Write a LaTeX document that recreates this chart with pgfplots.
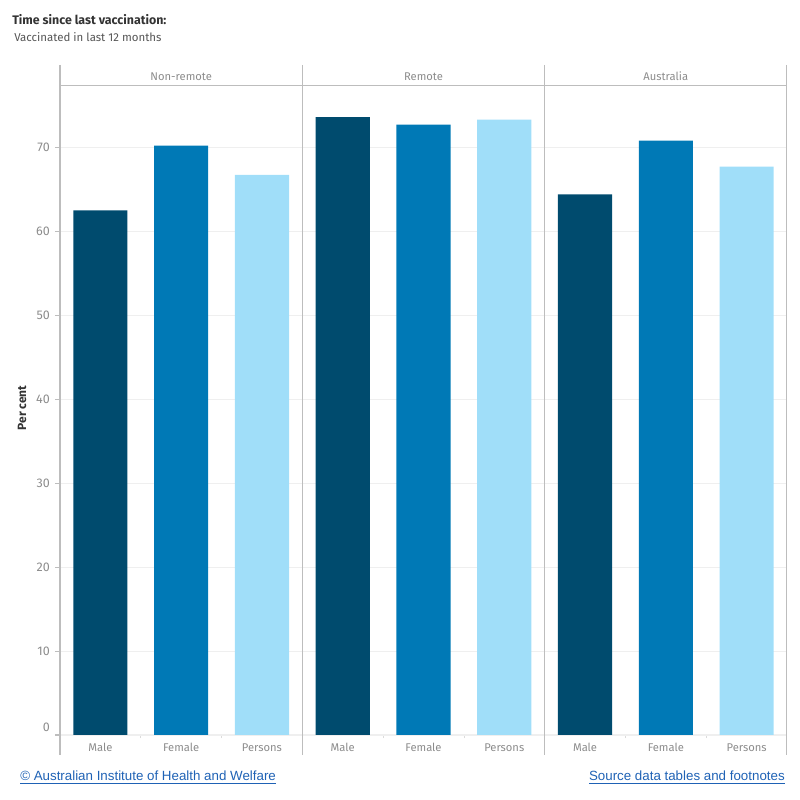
\documentclass[border=0pt]{standalone}
\usepackage{pgfplots}
\pgfplotsset{compat=1.18}
\usepackage{fontspec}
\setmainfont{Fira Sans}
\newfontfamily\arialfont{Liberation Sans}
\definecolor{cmale}{HTML}{004B6E}
\definecolor{cfemale}{HTML}{0079B6}
\definecolor{cpersons}{HTML}{A0DEF9}
\definecolor{axgray}{HTML}{BDBDBD}
\definecolor{gridgray}{HTML}{EFEFEF}
\definecolor{labgray}{HTML}{8C8C8C}
\definecolor{titlecol}{HTML}{333333}
\definecolor{subcol}{HTML}{555555}
\definecolor{linkblue}{HTML}{1F62B5}
\begin{document}
\begin{tikzpicture}[x=1pt,y=1pt]
\useasboundingbox (0,0) rectangle (600,600);
\node[anchor=base west, font=\bfseries\fontsize{9.3}{11}\selectfont, text=titlecol, inner sep=0] at (9,581.25) {Time since last vaccination:};
\node[anchor=base west, font=\fontsize{8.6}{10}\selectfont, text=subcol, inner sep=0] at (10.5,568.5) {Vaccinated in last 12 months};
\node[anchor=base west, font=\arialfont\fontsize{10}{12}\selectfont, text=linkblue, inner sep=0] at (15,14.25) {\underline{© Australian Institute of Health and Welfare}};
\node[anchor=base east, font=\arialfont\fontsize{10}{12}\selectfont, text=linkblue, inner sep=0] at (588.75,14.25) {\underline{Source data tables and footnotes}};
\node[rotate=90, font=\bfseries\fontsize{9}{11}\selectfont, text=titlecol] at (16.5,294) {Per cent};
\begin{axis}[
  at={(45pt,48.75pt)}, anchor=south west,
  scale only axis, width=545.25pt, height=486.75pt,
  xmin=-0.5, xmax=8.5, ymin=0, ymax=77.3,
  clip=false,
  axis line style={axgray, line width=0.75pt},
  ybar, bar width=0.67, bar shift=0pt,
  ytick={10,20,30,40,50,60,70},
  extra y ticks={0},
  extra y tick style={yticklabel style={yshift=6pt}},
  xtick={0,1,2,3,4,5,6,7,8},
  xticklabels={Male,Female,Persons,Male,Female,Persons,Male,Female,Persons},
  minor xtick={0.5,1.5,3.5,4.5,6.5,7.5},
  tick align=outside,
  major tick length=3.75pt, minor tick length=2.25pt,
  xtick style={draw=none},
  minor x tick style={draw=gridgray!60!axgray, line width=0.5pt},
  ytick style={draw=axgray, line width=0.75pt},
  xtick pos=bottom, ytick pos=left,
  ymajorgrids, grid style={gridgray, line width=0.75pt},
  /pgf/number format/assume math mode=true,
  tick label style={text=labgray, font=\fontsize{8.4}{10}\selectfont},
  x tick label style={anchor=base, yshift=-8.25pt},
  y tick label style={xshift=-0.3pt, font=\fontsize{9.4}{11}\selectfont},
]
\addplot[fill=cmale, draw=none] coordinates {(0,62.5) (3,73.6) (6,64.4)};
\addplot[fill=cfemale, draw=none] coordinates {(1,70.2) (4,72.7) (7,70.8)};
\addplot[fill=cpersons, draw=none] coordinates {(2,66.7) (5,73.3) (8,67.7)};
\draw[axgray, line width=0.75pt] ([yshift=15.75pt]rel axis cs:0,1) -- ([yshift=-15pt]rel axis cs:0,0);
\draw[axgray, line width=0.75pt] ([yshift=15.75pt]rel axis cs:0.33333,1) -- ([yshift=-15pt]rel axis cs:0.33333,0);
\draw[axgray, line width=0.75pt] ([yshift=15.75pt]rel axis cs:0.66667,1) -- ([yshift=-15pt]rel axis cs:0.66667,0);
\draw[axgray, line width=0.75pt] ([yshift=15.75pt]rel axis cs:1,1) -- ([yshift=-15pt]rel axis cs:1,0);
\node[text=labgray, font=\fontsize{8.4}{10}\selectfont, anchor=base] at ([yshift=4.2pt]rel axis cs:0.16667,1) {Non-remote};
\node[text=labgray, font=\fontsize{8.4}{10}\selectfont, anchor=base] at ([yshift=4.2pt]rel axis cs:0.5,1) {Remote};
\node[text=labgray, font=\fontsize{8.4}{10}\selectfont, anchor=base] at ([yshift=4.2pt]rel axis cs:0.83333,1) {Australia};
\end{axis}
\end{tikzpicture}
\end{document}
